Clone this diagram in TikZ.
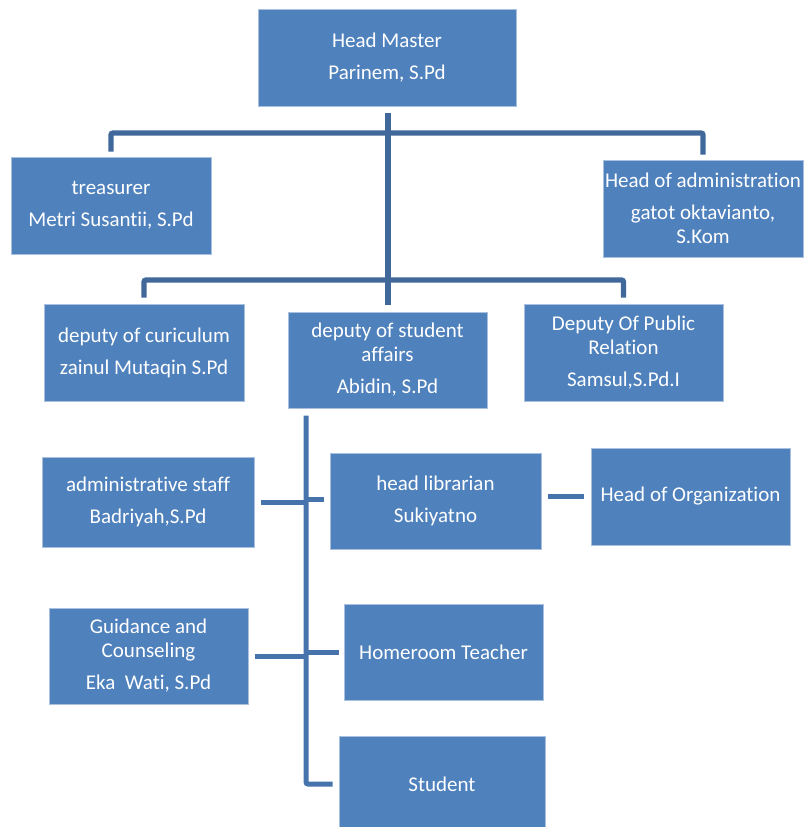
\documentclass[tikz,border=0pt]{standalone}
\usepackage{fontspec}
\setmainfont[RawFeature={-liga;-clig;-dlig;-calt}]{Carlito}
\usetikzlibrary{calc}
\definecolor{boxfill}{HTML}{4F81BD}
\definecolor{boxline}{HTML}{A9C1DF}
\definecolor{connA}{HTML}{41689B}
\definecolor{connB}{HTML}{4673AC}
\tikzset{
  orgbox/.style={draw=boxline, line width=1pt, fill=boxfill, text=white, inner sep=0pt,
    align=center, font=\fontsize{21}{24}\selectfont},
  connup/.style={draw=connA, line width=5.3pt, rounded corners=2pt},
  connlow/.style={draw=connB, line width=5pt, rounded corners=2pt},
}
\begin{document}
\begin{tikzpicture}[x=1pt,y=-1pt]
\useasboundingbox (0,0) rectangle (809,827);
\clip (0,0) rectangle (809,827);
\node[orgbox, minimum width=258pt, minimum height=97pt] (hm) at (387,57.5) {Head Master\\[8pt]Parinem, S.Pd};
\node[orgbox, minimum width=200pt, minimum height=97pt] (tr) at (111,205.5) {treasurer\\[8pt]Metri Susantii, S.Pd};
\node[orgbox, minimum width=200pt, minimum height=97pt] (ha) at (703,208.5) {Head of administration\\[8pt]gatot oktavianto,\\S.Kom};
\node[orgbox, minimum width=200pt, minimum height=97pt] (dc) at (144,352.5) {deputy of curiculum\\[8pt]zainul Mutaqin S.Pd};
\node[orgbox, minimum width=199pt, minimum height=96pt] (sa) at (387.5,360) {deputy of student\\affairs\\[8pt]Abidin, S.Pd};
\node[orgbox, minimum width=199pt, minimum height=97pt] (pr) at (623.5,352.5) {Deputy Of Public\\Relation\\[8pt]Samsul,S.Pd.I};
\node[orgbox, minimum width=212pt, minimum height=90pt] (as) at (148,502) {administrative staff\\[8pt]Badriyah,S.Pd};
\node[orgbox, minimum width=211pt, minimum height=96pt] (hl) at (435.5,501) {head librarian\\[8pt]Sukiyatno};
\node[orgbox, minimum width=199pt, minimum height=97pt] (ho) at (690.5,496.5) {Head of Organization};
\node[orgbox, minimum width=199pt, minimum height=96pt] (gc) at (148.5,656) {Guidance and\\Counseling\\[8pt]Eka\ \ Wati, S.Pd};
\node[orgbox, minimum width=199pt, minimum height=96pt] (hr) at (443.5,652) {Homeroom Teacher};
\node[orgbox, minimum width=206pt, minimum height=96pt] (st) at (442,784) {Student};

\coordinate (bar1) at (388,133);
\coordinate (bar2) at (388,280);
\coordinate (t2) at (306,0);

% upper connectors
\draw[connup, shorten <=6pt, shorten >=7pt] (hm.south -| bar1) -- (sa.north -| bar1);
\draw[connup, shorten <=5pt, shorten >=5pt] (tr.north) -- (tr.north |- bar1) -- (ha.north |- bar1) -- (ha.north);
\draw[connup, shorten <=6pt, shorten >=6pt] (dc.north) -- (dc.north |- bar2) -- (pr.north |- bar2) -- (pr.north);

% lower connectors
\draw[connlow, shorten <=7pt, shorten >=6pt] (sa.south -| t2) -- (st.west -| t2) -- (st.west);
\draw[connlow, shorten <=6pt] (as.east) -- (as.east -| t2);
\draw[connlow, shorten >=6pt] ($(t2 |- hl.west)+(0,-2)$) -- ($(hl.west)+(0,-2)$);
\draw[connlow, shorten <=6pt, shorten >=7pt] (ho.west -| hl.east) -- (ho.west);
\draw[connlow, shorten <=6pt] (gc.east) -- (gc.east -| t2);
\draw[connlow, shorten >=5pt] (t2 |- hr.west) -- (hr.west);
\end{tikzpicture}
\end{document}
